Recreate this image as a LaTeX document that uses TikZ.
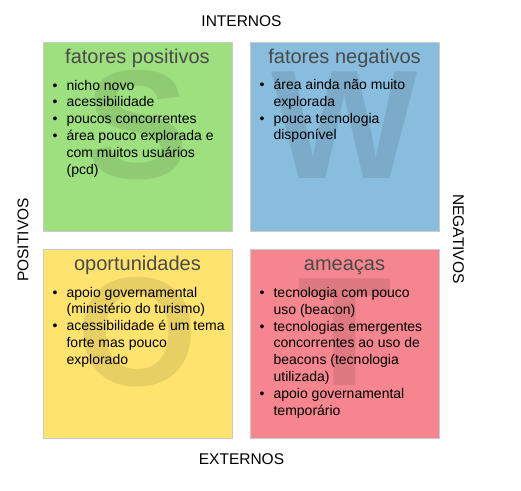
\documentclass[tikz,border=0pt]{standalone}
\usepackage{fontspec}
\setmainfont{Liberation Sans}
\usepackage{xcolor}
\usepackage{tikz}
\definecolor{verdeS}{HTML}{9EE07F}
\definecolor{azulW}{HTML}{88BDDD}
\definecolor{amareloO}{HTML}{FEE46E}
\definecolor{vermelhoT}{HTML}{F5868F}
\definecolor{tituloC}{HTML}{4A4A4A}
\definecolor{bordaC}{HTML}{CACACA}
\newcommand{\listaswot}[1]{\begin{tabular}[t]{@{}l@{\hspace{9pt}}l@{}}#1\end{tabular}}

\begin{document}
\begin{tikzpicture}[
  x=1pt, y=-1pt,
  quad/.style={draw=bordaC, line width=0.8pt,
    minimum width=189pt, minimum height=189pt, inner sep=0pt},
  letra/.style={font=\fontsize{155}{155}\selectfont\bfseries,
    text=black, text opacity=0.09, inner sep=0pt},
  ttl/.style={font=\fontsize{20}{24}\selectfont, text=tituloC,
    anchor=base, inner sep=0pt},
  lst/.style={font=\fontsize{14}{16.8}\selectfont, anchor=base west, inner sep=0pt},
  lado/.style={font=\fontsize{15.5}{18}\selectfont, anchor=base, inner sep=0pt},
]
  \useasboundingbox (0,0) rectangle (521,490);

  %% Quadrants
  \foreach \nm/\x/\y/\cor/\ltr/\tit in {
      forcas/43/42/verdeS/S/fatores positivos,
      fraq/250/42/azulW/W/fatores negativos,
      oport/43/249/amareloO/O/oportunidades,
      amea/250/249/vermelhoT/T/ameaças} {
    \node[quad, fill=\cor] (\nm) at (\x+94.5,\y+94.5) {};
    \node[letra] (\nm-ltr) at (\x+94.5,\y+83) {\ltr};
    \node[ttl] (\nm-ttl) at (\x+94.5,\y+21.5) {\tit};
  }

  %% Axis labels
  \node[lado] (internos) at (241.5,26.5) {INTERNOS};
  \node[lado] (externos) at (241.5,464.3) {EXTERNOS};
  \node[lado, rotate=90] (positivos) at (28.3,240) {POSITIVOS};
  \node[lado, rotate=-90] (negativos) at (453,239) {NEGATIVOS};

  %% Lists
  \node[lst] (forcas-lst) at (52.5,90) {\listaswot{
    \textbullet & nicho novo\\
    \textbullet & acessibilidade\\
    \textbullet & poucos concorrentes\\
    \textbullet & área pouco explorada e\\
                & com muitos usuários\\
                & (pcd)}};

  \node[lst] (fraq-lst) at (259.5,89.5) {\listaswot{
    \textbullet & área ainda não muito\\
                & explorada\\
    \textbullet & pouca tecnologia\\
                & disponível}};

  \node[lst] (oport-lst) at (52.5,297) {\listaswot{
    \textbullet & apoio governamental\\
                & (ministério do turismo)\\
    \textbullet & acessibilidade é um tema\\
                & forte mas pouco\\
                & explorado}};

  \node[lst] (amea-lst) at (259.5,297.5) {\listaswot{
    \textbullet & tecnologia com pouco\\
                & uso (beacon)\\
    \textbullet & tecnologias emergentes\\
                & concorrentes ao uso de\\
                & beacons (tecnologia\\
                & utilizada)\\
    \textbullet & apoio governamental\\
                & temporário}};
\end{tikzpicture}
\end{document}
